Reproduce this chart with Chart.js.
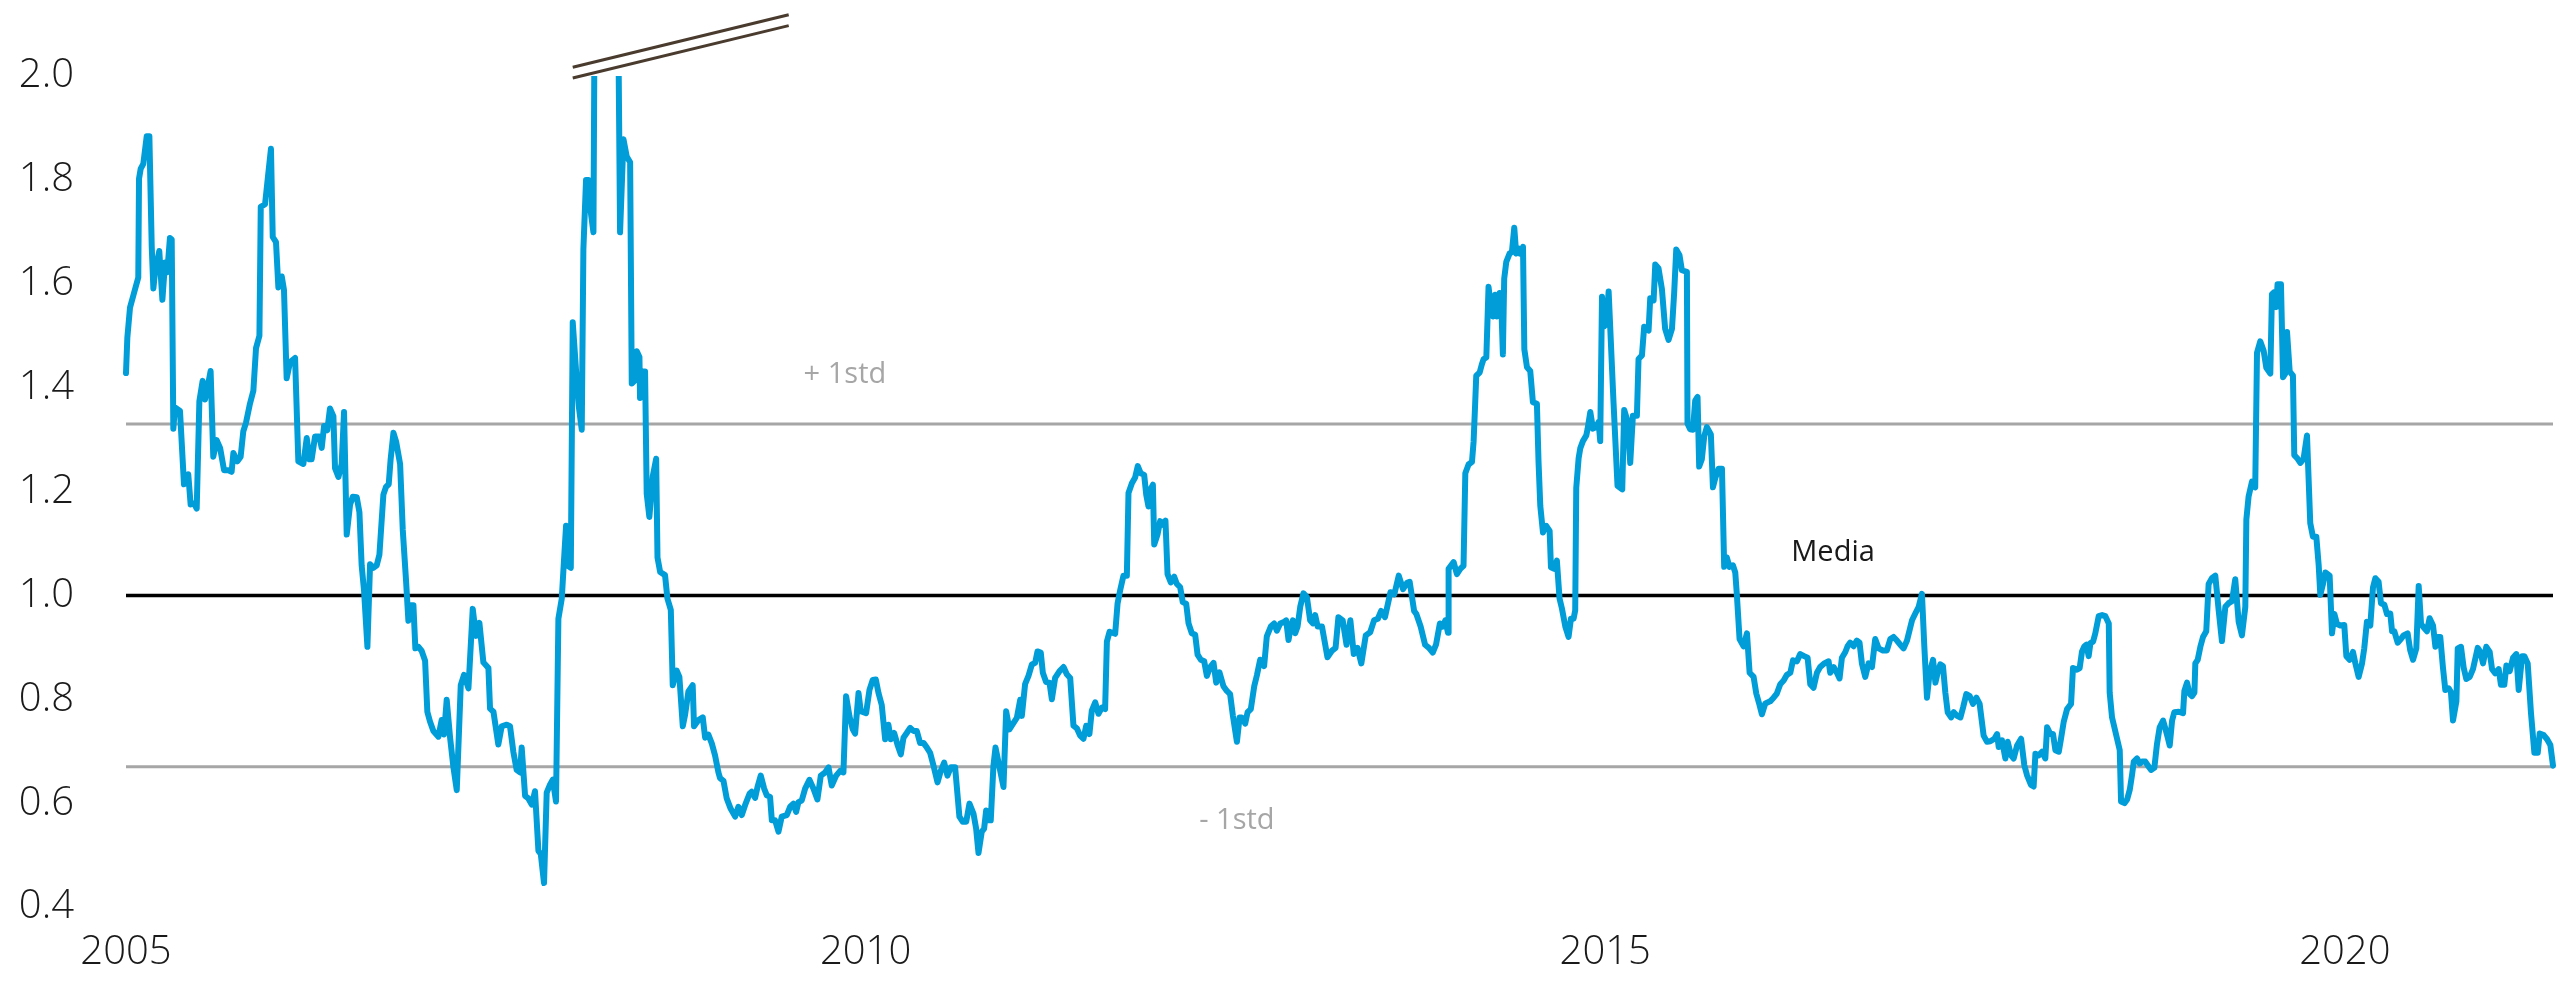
<!DOCTYPE html>
<html>
<head>
<meta charset="utf-8">
<title>Ratio vs media</title>
<script src="https://cdn.jsdelivr.net/npm/chart.js@4.4.1/dist/chart.umd.min.js"></script>
<style>
  html, body { margin: 0; padding: 0; background: #fff; }
  #chart { display: block; }
</style>
</head>
<body>
<canvas id="chart" width="2569" height="983"></canvas>
<script>
/* Series, one pair of arrays per stretch of years
   (decimal year -> ratio). Values above 2.0 in 2008 run off the top of the axis. */
const d2005 = [
  2005.000, 2005.009, 2005.027, 2005.050, 2005.083, 2005.088, 2005.099, 2005.117,
  2005.140, 2005.158, 2005.174, 2005.185, 2005.196, 2005.225, 2005.246, 2005.264,
  2005.279, 2005.297, 2005.309, 2005.320, 2005.331, 2005.365, 2005.392, 2005.421,
  2005.437, 2005.460, 2005.478, 2005.496, 2005.518, 2005.534, 2005.550, 2005.572,
  2005.590, 2005.613, 2005.636, 2005.663, 2005.692, 2005.714, 2005.726, 2005.753,
  2005.775, 2005.793, 2005.811, 2005.838, 2005.861, 2005.879, 2005.902, 2005.911,
  2005.940, 2005.960, 2005.980, 2005.992, 2006.014, 2006.030, 2006.053, 2006.068,
  2006.086, 2006.109, 2006.143, 2006.165, 2006.199, 2006.222, 2006.240, 2006.255,
  2006.278, 2006.307, 2006.323, 2006.339, 2006.361, 2006.379, 2006.402, 2006.413,
  2006.436, 2006.458, 2006.474, 2006.492, 2006.515, 2006.533, 2006.560, 2006.578,
  2006.593, 2006.609, 2006.632, 2006.650, 2006.672, 2006.695, 2006.713, 2006.740,
  2006.758, 2006.776, 2006.789, 2006.808, 2006.826, 2006.853, 2006.871, 2006.893,
  2006.909, 2006.925, 2006.943, 2006.956, 2006.977, 2006.999, 2007.022, 2007.037,
  2007.055
];
const v2005 = [
  1.428, 1.496, 1.554, 1.578, 1.612, 1.802, 1.821, 1.831,
  1.884, 1.884, 1.671, 1.591, 1.622, 1.663, 1.569, 1.641,
  1.622, 1.688, 1.685, 1.321, 1.362, 1.355, 1.214, 1.233,
  1.175, 1.177, 1.167, 1.374, 1.413, 1.377, 1.398, 1.432,
  1.267, 1.299, 1.284, 1.241, 1.241, 1.238, 1.274, 1.258,
  1.267, 1.316, 1.332, 1.369, 1.394, 1.476, 1.500, 1.748,
  1.753, 1.807, 1.860, 1.690, 1.680, 1.593, 1.614, 1.588,
  1.418, 1.449, 1.457, 1.258, 1.253, 1.303, 1.262, 1.262,
  1.306, 1.306, 1.284, 1.326, 1.318, 1.360, 1.345, 1.245,
  1.228, 1.253, 1.353, 1.117, 1.175, 1.190, 1.189, 1.160,
  1.058, 1.010, 0.901, 1.060, 1.053, 1.058, 1.078, 1.194,
  1.209, 1.214, 1.262, 1.313, 1.296, 1.253, 1.126, 1.029,
  0.951, 0.981, 0.981, 0.898, 0.901, 0.893, 0.874, 0.776,
  0.757
];

const d2007 = [
  2007.078, 2007.112, 2007.134, 2007.150, 2007.168, 2007.191, 2007.213, 2007.236,
  2007.263, 2007.285, 2007.315, 2007.344, 2007.366, 2007.389, 2007.416, 2007.450,
  2007.461, 2007.484, 2007.517, 2007.540, 2007.574, 2007.596, 2007.619, 2007.641,
  2007.664, 2007.675, 2007.698, 2007.720, 2007.743, 2007.765, 2007.788, 2007.804,
  2007.826, 2007.844, 2007.867, 2007.885, 2007.907, 2007.923, 2007.946, 2007.962,
  2007.975, 2007.991, 2008.007, 2008.020, 2008.043, 2008.061, 2008.081, 2008.092,
  2008.110, 2008.126, 2008.137, 2008.160, 2008.171, 2008.250, 2008.322, 2008.340,
  2008.363, 2008.385, 2008.408, 2008.419, 2008.441, 2008.453, 2008.471, 2008.475,
  2008.493, 2008.509, 2008.520, 2008.538, 2008.561, 2008.584, 2008.593, 2008.611,
  2008.644, 2008.660, 2008.683, 2008.696, 2008.723, 2008.741, 2008.764, 2008.780,
  2008.802, 2008.831, 2008.840, 2008.870, 2008.899, 2008.915, 2008.937, 2008.960,
  2008.982, 2009.005, 2009.016
];
const v2007 = [
  0.739, 0.728, 0.760, 0.732, 0.799, 0.726, 0.670, 0.625,
  0.827, 0.847, 0.821, 0.974, 0.922, 0.947, 0.871, 0.860,
  0.782, 0.776, 0.713, 0.748, 0.751, 0.748, 0.698, 0.664,
  0.659, 0.707, 0.614, 0.609, 0.597, 0.623, 0.508, 0.502,
  0.446, 0.620, 0.636, 0.645, 0.603, 0.955, 0.994, 1.073,
  1.134, 1.056, 1.053, 1.526, 1.431, 1.364, 1.319, 1.666,
  1.800, 1.800, 1.749, 1.699, 2.300, 2.600, 2.300, 1.699,
  1.878, 1.845, 1.834, 1.408, 1.414, 1.470, 1.459, 1.380,
  1.431, 1.431, 1.196, 1.151, 1.229, 1.263, 1.073, 1.045,
  1.039, 0.994, 0.972, 0.827, 0.855, 0.843, 0.748, 0.771,
  0.815, 0.827, 0.748, 0.760, 0.765, 0.726, 0.732, 0.715,
  0.692, 0.659, 0.648
];

const d2009 = [
  2009.039, 2009.061, 2009.088, 2009.118, 2009.140, 2009.163, 2009.185, 2009.215,
  2009.230, 2009.253, 2009.269, 2009.291, 2009.314, 2009.332, 2009.354, 2009.366,
  2009.388, 2009.411, 2009.433, 2009.467, 2009.490, 2009.512, 2009.530, 2009.546,
  2009.568, 2009.591, 2009.620, 2009.647, 2009.674, 2009.697, 2009.726, 2009.749,
  2009.771, 2009.801, 2009.828, 2009.850, 2009.868, 2009.891, 2009.913, 2009.929,
  2009.952, 2009.967, 2010.003, 2010.026, 2010.048, 2010.069, 2010.087, 2010.109,
  2010.132, 2010.154, 2010.170, 2010.193, 2010.215, 2010.238, 2010.256, 2010.278,
  2010.301, 2010.323, 2010.346, 2010.368, 2010.391, 2010.414, 2010.436, 2010.459,
  2010.486, 2010.508, 2010.531, 2010.553, 2010.576, 2010.605, 2010.634, 2010.657,
  2010.680, 2010.702, 2010.729, 2010.747, 2010.763, 2010.785, 2010.801, 2010.815,
  2010.830, 2010.846, 2010.864, 2010.878, 2010.905, 2010.932, 2010.950, 2010.972,
  2010.999, 2011.022, 2011.045
];
const v2009 = [
  0.643, 0.609, 0.589, 0.574, 0.593, 0.577, 0.596, 0.618,
  0.622, 0.610, 0.631, 0.653, 0.628, 0.615, 0.612, 0.567,
  0.567, 0.545, 0.574, 0.577, 0.593, 0.599, 0.583, 0.602,
  0.605, 0.628, 0.645, 0.628, 0.607, 0.653, 0.659, 0.669,
  0.634, 0.653, 0.662, 0.659, 0.806, 0.767, 0.742, 0.734,
  0.812, 0.777, 0.773, 0.818, 0.837, 0.838, 0.812, 0.789,
  0.723, 0.751, 0.723, 0.735, 0.713, 0.694, 0.726, 0.735,
  0.745, 0.739, 0.739, 0.716, 0.716, 0.707, 0.697, 0.672,
  0.640, 0.662, 0.678, 0.653, 0.669, 0.669, 0.574, 0.564,
  0.564, 0.599, 0.580, 0.551, 0.504, 0.545, 0.551, 0.586,
  0.567, 0.567, 0.672, 0.707, 0.669, 0.631, 0.777, 0.742,
  0.754, 0.764, 0.799
];

const d2011 = [
  2011.056, 2011.078, 2011.101, 2011.124, 2011.146, 2011.162, 2011.184, 2011.198,
  2011.220, 2011.243, 2011.259, 2011.281, 2011.311, 2011.338, 2011.360, 2011.383,
  2011.405, 2011.428, 2011.450, 2011.473, 2011.491, 2011.513, 2011.529, 2011.552,
  2011.574, 2011.597, 2011.619, 2011.631, 2011.649, 2011.687, 2011.703, 2011.721,
  2011.743, 2011.766, 2011.777, 2011.800, 2011.822, 2011.840, 2011.860, 2011.883,
  2011.897, 2011.912, 2011.924, 2011.942, 2011.951, 2011.973, 2011.991, 2012.009,
  2012.027, 2012.041, 2012.063, 2012.086, 2012.104, 2012.126, 2012.144, 2012.167,
  2012.183, 2012.205, 2012.228, 2012.244, 2012.266, 2012.289, 2012.307, 2012.329,
  2012.352, 2012.370, 2012.392, 2012.419, 2012.442, 2012.464, 2012.483, 2012.510,
  2012.528, 2012.543, 2012.566, 2012.582, 2012.604, 2012.627, 2012.645, 2012.667,
  2012.694, 2012.712, 2012.739, 2012.762, 2012.780, 2012.803, 2012.830, 2012.843,
  2012.859, 2012.875, 2012.888, 2012.904, 2012.920, 2012.938, 2012.960, 2012.983,
  2013.005, 2013.023, 2013.039
];
const v2011 = [
  0.768, 0.829, 0.845, 0.867, 0.870, 0.892, 0.890, 0.851,
  0.833, 0.832, 0.800, 0.841, 0.854, 0.862, 0.848, 0.841,
  0.749, 0.744, 0.730, 0.724, 0.749, 0.733, 0.778, 0.794,
  0.772, 0.784, 0.781, 0.911, 0.930, 0.926, 0.984, 1.010,
  1.038, 1.038, 1.197, 1.216, 1.227, 1.249, 1.235, 1.232,
  1.194, 1.171, 1.203, 1.213, 1.098, 1.117, 1.143, 1.136,
  1.144, 1.041, 1.025, 1.036, 1.022, 1.016, 0.987, 0.984,
  0.946, 0.927, 0.924, 0.886, 0.876, 0.873, 0.845, 0.862,
  0.870, 0.832, 0.852, 0.825, 0.816, 0.810, 0.768, 0.718,
  0.765, 0.765, 0.753, 0.775, 0.781, 0.825, 0.846, 0.876,
  0.864, 0.921, 0.940, 0.946, 0.932, 0.946, 0.949, 0.952,
  0.914, 0.940, 0.952, 0.927, 0.940, 0.978, 1.004, 0.997,
  0.952, 0.946, 0.962
];

const d2013 = [
  2013.056, 2013.085, 2013.107, 2013.122, 2013.151, 2013.177, 2013.196, 2013.225,
  2013.251, 2013.277, 2013.300, 2013.325, 2013.351, 2013.381, 2013.411, 2013.437,
  2013.463, 2013.485, 2013.511, 2013.548, 2013.574, 2013.604, 2013.633, 2013.660,
  2013.678, 2013.708, 2013.723, 2013.752, 2013.782, 2013.808, 2013.834, 2013.856,
  2013.882, 2013.901, 2013.919, 2013.937, 2013.941, 2013.975, 2013.997, 2014.020,
  2014.042,
  2014.054, 2014.076, 2014.099, 2014.110, 2014.121, 2014.128, 2014.151, 2014.166,
  2014.178, 2014.196, 2014.211, 2014.227, 2014.241, 2014.256, 2014.268, 2014.286,
  2014.295, 2014.308, 2014.317, 2014.331, 2014.353, 2014.369, 2014.385, 2014.398,
  2014.414, 2014.425, 2014.444, 2014.453, 2014.471, 2014.493, 2014.511, 2014.538,
  2014.549, 2014.561, 2014.579, 2014.601, 2014.624, 2014.633, 2014.655, 2014.673,
  2014.691, 2014.707, 2014.730, 2014.752, 2014.768, 2014.786, 2014.797, 2014.804,
  2014.820, 2014.831, 2014.849, 2014.872, 2014.881, 2014.899, 2014.917, 2014.939,
  2014.955, 2014.966, 2014.978, 2014.993, 2015.007, 2015.023
];
const v2013 = [
  0.940, 0.940, 0.905, 0.881, 0.893, 0.899, 0.958, 0.952,
  0.905, 0.952, 0.887, 0.899, 0.869, 0.923, 0.929, 0.952,
  0.955, 0.970, 0.958, 1.006, 1.002, 1.038, 1.012, 1.024,
  1.026, 0.970, 0.964, 0.940, 0.905, 0.899, 0.890, 0.905,
  0.946, 0.940, 0.952, 0.928, 1.051, 1.064, 1.041, 1.051,
  1.057,
  1.235, 1.252, 1.257, 1.296, 1.372, 1.423, 1.429, 1.445,
  1.455, 1.458, 1.594, 1.556, 1.537, 1.579, 1.537, 1.582,
  1.579, 1.464, 1.610, 1.642, 1.658, 1.661, 1.708, 1.658,
  1.668, 1.658, 1.671, 1.474, 1.439, 1.432, 1.372, 1.369,
  1.257, 1.172, 1.121, 1.134, 1.124, 1.054, 1.051, 1.067,
  0.994, 0.975, 0.940, 0.920, 0.955, 0.955, 0.971, 1.207,
  1.264, 1.283, 1.297, 1.308, 1.321, 1.353, 1.321, 1.324,
  1.334, 1.297, 1.575, 1.518, 1.524, 1.585
];

const d2015 = [
  2015.056, 2015.083, 2015.115, 2015.128, 2015.151, 2015.169, 2015.187, 2015.214,
  2015.225, 2015.248, 2015.263, 2015.293, 2015.304, 2015.327, 2015.338, 2015.360,
  2015.383, 2015.405, 2015.428, 2015.451, 2015.466, 2015.480, 2015.502, 2015.518,
  2015.552, 2015.556, 2015.574, 2015.593, 2015.608, 2015.624, 2015.635, 2015.653,
  2015.669, 2015.687, 2015.714, 2015.728, 2015.744, 2015.766, 2015.789, 2015.804,
  2015.822, 2015.840, 2015.863, 2015.879, 2015.890, 2015.908, 2015.935, 2015.958,
  2015.976, 2016.003, 2016.021, 2016.043, 2016.059, 2016.082, 2016.115, 2016.138,
  2016.160, 2016.183, 2016.206, 2016.228, 2016.251, 2016.269, 2016.296, 2016.318,
  2016.345, 2016.368, 2016.386, 2016.408, 2016.431, 2016.453, 2016.480, 2016.510,
  2016.521, 2016.544, 2016.566, 2016.584, 2016.600, 2016.623, 2016.638, 2016.656,
  2016.679, 2016.701, 2016.719, 2016.735, 2016.758, 2016.780, 2016.803, 2016.825,
  2016.848, 2016.877, 2016.904, 2016.927, 2016.949, 2016.972, 2016.994, 2017.017,
  2017.040
];
const v2015 = [
  1.371, 1.211, 1.204, 1.357, 1.335, 1.255, 1.346, 1.346,
  1.455, 1.462, 1.517, 1.510, 1.572, 1.568, 1.637, 1.630,
  1.590, 1.513, 1.492, 1.513, 1.583, 1.666, 1.655, 1.626,
  1.623, 1.331, 1.320, 1.319, 1.375, 1.382, 1.248, 1.262,
  1.306, 1.324, 1.310, 1.208, 1.226, 1.244, 1.244, 1.055,
  1.073, 1.055, 1.058, 1.044, 1.000, 0.916, 0.902, 0.927,
  0.851, 0.843, 0.811, 0.789, 0.771, 0.792, 0.796, 0.803,
  0.811, 0.829, 0.836, 0.847, 0.851, 0.875, 0.873, 0.887,
  0.883, 0.880, 0.829, 0.822, 0.851, 0.862, 0.869, 0.873,
  0.851, 0.862, 0.851, 0.840, 0.880, 0.891, 0.902, 0.909,
  0.902, 0.913, 0.909, 0.869, 0.843, 0.869, 0.862, 0.916,
  0.898, 0.894, 0.894, 0.916, 0.920, 0.913, 0.905, 0.898,
  0.913
];

const d2017 = [
  2017.074, 2017.096, 2017.119, 2017.141, 2017.157, 2017.175, 2017.193, 2017.216,
  2017.232, 2017.247, 2017.265, 2017.283, 2017.299, 2017.315, 2017.338, 2017.356,
  2017.378, 2017.401, 2017.419, 2017.441, 2017.464, 2017.486, 2017.509, 2017.531,
  2017.558, 2017.581, 2017.603, 2017.631, 2017.649, 2017.660, 2017.682, 2017.705,
  2017.721, 2017.743, 2017.761, 2017.784, 2017.811, 2017.833, 2017.851, 2017.878,
  2017.896, 2017.908, 2017.930, 2017.953, 2017.975, 2017.987, 2018.009, 2018.027,
  2018.043, 2018.066, 2018.081, 2018.099, 2018.122, 2018.149, 2018.162, 2018.189,
  2018.207, 2018.223, 2018.239, 2018.253, 2018.268, 2018.280, 2018.298, 2018.313,
  2018.336, 2018.359, 2018.381, 2018.404, 2018.410, 2018.426, 2018.455, 2018.478,
  2018.487, 2018.510, 2018.528, 2018.546, 2018.561, 2018.573, 2018.595, 2018.613,
  2018.629, 2018.651, 2018.674, 2018.690, 2018.712, 2018.730, 2018.748, 2018.771,
  2018.787, 2018.802, 2018.816, 2018.832, 2018.847, 2018.877, 2018.906, 2018.915,
  2018.933, 2018.951, 2018.967, 2018.983
];
const v2017 = [
  0.952, 0.965, 0.978, 1.003, 0.902, 0.803, 0.851, 0.876,
  0.832, 0.851, 0.867, 0.864, 0.813, 0.775, 0.765, 0.775,
  0.768, 0.765, 0.784, 0.810, 0.806, 0.791, 0.803, 0.791,
  0.730, 0.718, 0.719, 0.724, 0.733, 0.708, 0.721, 0.686,
  0.718, 0.692, 0.686, 0.711, 0.724, 0.673, 0.654, 0.635,
  0.632, 0.695, 0.692, 0.699, 0.686, 0.746, 0.733, 0.733,
  0.702, 0.699, 0.724, 0.756, 0.781, 0.791, 0.860, 0.857,
  0.860, 0.892, 0.902, 0.905, 0.883, 0.908, 0.911, 0.927,
  0.960, 0.962, 0.960, 0.946, 0.813, 0.765, 0.730, 0.702,
  0.603, 0.600, 0.607, 0.626, 0.654, 0.680, 0.686, 0.676,
  0.680, 0.680, 0.670, 0.664, 0.668, 0.714, 0.746, 0.759,
  0.743, 0.727, 0.711, 0.759, 0.775, 0.776, 0.773, 0.816,
  0.832, 0.810, 0.806, 0.813
];

const d2019 = [
  2018.989, 2019.005, 2019.023, 2019.041, 2019.063, 2019.079, 2019.101, 2019.124,
  2019.147, 2019.169, 2019.192, 2019.214, 2019.237, 2019.259, 2019.282, 2019.304,
  2019.327, 2019.334, 2019.349, 2019.372, 2019.394, 2019.406, 2019.428, 2019.451,
  2019.469, 2019.496, 2019.507, 2019.523, 2019.536, 2019.545, 2019.568, 2019.582,
  2019.597, 2019.609, 2019.627, 2019.649, 2019.658, 2019.681, 2019.699, 2019.721,
  2019.744, 2019.766, 2019.784, 2019.807, 2019.823, 2019.834, 2019.852, 2019.868,
  2019.897, 2019.913, 2019.929, 2019.947, 2019.969, 2019.996, 2020.010, 2020.032,
  2020.055, 2020.071, 2020.093, 2020.116, 2020.131, 2020.149, 2020.172, 2020.190,
  2020.206, 2020.228, 2020.244, 2020.267, 2020.285, 2020.307, 2020.319, 2020.334,
  2020.357, 2020.379, 2020.397, 2020.424, 2020.442, 2020.461, 2020.483, 2020.499,
  2020.515, 2020.533, 2020.555, 2020.573, 2020.596, 2020.612, 2020.627, 2020.645,
  2020.663, 2020.679, 2020.702, 2020.717, 2020.731, 2020.754, 2020.763, 2020.785,
  2020.803, 2020.821, 2020.844, 2020.866, 2020.898, 2020.916, 2020.934, 2020.956,
  2020.979, 2020.995, 2021.017, 2021.040, 2021.055, 2021.078, 2021.092, 2021.114,
  2021.137, 2021.159, 2021.175, 2021.198, 2021.213, 2021.236, 2021.258, 2021.281,
  2021.304, 2021.317, 2021.344, 2021.367, 2021.389, 2021.407
];
const v2019 = [
  0.869, 0.876, 0.901, 0.920, 0.931, 1.022, 1.033, 1.038,
  0.971, 0.912, 0.978, 0.985, 0.989, 1.031, 0.949, 0.923,
  0.978, 1.146, 1.190, 1.219, 1.208, 1.467, 1.489, 1.471,
  1.438, 1.427, 1.580, 1.584, 1.555, 1.599, 1.599, 1.420,
  1.427, 1.507, 1.431, 1.423, 1.270, 1.263, 1.255, 1.263,
  1.308, 1.139, 1.113, 1.113, 1.058, 1.001, 1.022, 1.044,
  1.038, 0.927, 0.964, 0.945, 0.942, 0.943, 0.883, 0.876,
  0.891, 0.869, 0.843, 0.869, 0.898, 0.949, 0.942, 1.015,
  1.033, 1.026, 0.985, 0.982, 0.964, 0.965, 0.931, 0.931,
  0.909, 0.916, 0.923, 0.927, 0.894, 0.876, 0.898, 1.018,
  0.945, 0.938, 0.931, 0.956, 0.942, 0.901, 0.920, 0.920,
  0.861, 0.818, 0.821, 0.814, 0.759, 0.796, 0.898, 0.901,
  0.861, 0.839, 0.843, 0.858, 0.899, 0.891, 0.869, 0.901,
  0.891, 0.858, 0.850, 0.858, 0.828, 0.828, 0.865, 0.854,
  0.880, 0.887, 0.818, 0.883, 0.883, 0.869, 0.774, 0.697,
  0.697, 0.734, 0.731, 0.723, 0.712, 0.672
];

// reference levels
const MEDIA = 1.0;
const STD_UP = 1.33;
const STD_DOWN = 0.67;

// axes
const X_MIN = 2005, X_MAX = 2021.407;
const xTicks = [2005, 2010, 2015, 2020];
const yTicks = [0.4, 0.6, 0.8, 1.0, 1.2, 1.4, 1.6, 1.8, 2.0];

// axis-break mark above 2008 (two parallel strokes)
const breakX = [2008.02, 2009.48];
const breakHi = [2.017, 2.118];
const breakLo = [1.996, 2.097];

const notes = [
  { text: "+ 1std", x: 2009.86, y: 1.425, color: "#a6a6a6" },
  { text: "Media",  x: 2016.54, y: 1.083, color: "#1a1a1a" },
  { text: "- 1std", x: 2012.51, y: 0.567, color: "#a6a6a6" },
];

const FONT = "'Open Sans', 'Noto Sans', sans-serif";
const BLUE = "#009dd8", GREY = "#a6a6a6", BREAK = "#4a3b2f";

const dates = [].concat(d2005, d2007, d2009, d2011, d2013, d2015, d2017, d2019);
const ratio = [].concat(v2005, v2007, v2009, v2011, v2013, v2015, v2017, v2019);
if (dates.length !== ratio.length) console.error("length mismatch", dates.length, ratio.length);

const pts = (xs, ys) => xs.map((x, i) => ({ x, y: ys[i] }));
const hline = v => [{ x: X_MIN, y: v }, { x: X_MAX, y: v }];

const notesPlugin = {
  id: "notes",
  afterDatasetsDraw(chart) {
    const { ctx, scales: { x, y } } = chart;
    ctx.save();
    ctx.font = "29px " + FONT;
    ctx.textAlign = "center";
    ctx.textBaseline = "middle";
    notes.forEach(n => {
      ctx.fillStyle = n.color;
      ctx.fillText(n.text, x.getPixelForValue(n.x), y.getPixelForValue(n.y));
    });
    ctx.restore();
  },
};

Chart.defaults.font.family = FONT;

new Chart(document.getElementById("chart"), {
  type: "line",
  data: {
    datasets: [
      { data: pts(dates, ratio), borderColor: BLUE, borderWidth: 6, order: 0,
        borderJoinStyle: "round", borderCapStyle: "round",
        clip: { left: 4, right: 4, top: 0, bottom: 4 } },
      { data: hline(MEDIA), borderColor: "#000", borderWidth: 3.5, order: 1 },
      { data: hline(STD_UP), borderColor: GREY, borderWidth: 3, order: 1 },
      { data: hline(STD_DOWN), borderColor: GREY, borderWidth: 3, order: 1 },
      { data: pts(breakX, breakHi), borderColor: BREAK, borderWidth: 3, clip: false, order: 2 },
      { data: pts(breakX, breakLo), borderColor: BREAK, borderWidth: 3, clip: false, order: 2 },
    ],
  },
  options: {
    responsive: false,
    animation: false,
    devicePixelRatio: 1,
    elements: { point: { radius: 0, hoverRadius: 0 }, line: { tension: 0, fill: false } },
    layout: { padding: { left: 0, right: 16, top: 74, bottom: 0 } },
    plugins: { legend: { display: false }, tooltip: { enabled: false } },
    events: [],
    scales: {
      x: {
        type: "linear", min: X_MIN, max: X_MAX,
        grid: { display: false, drawTicks: false }, border: { display: false },
        afterBuildTicks: s => { s.ticks = xTicks.map(value => ({ value })); },
        afterFit: s => { s.height = 72; },
        ticks: { padding: 22, maxRotation: 0, autoSkip: false, color: "#1a1a1a",
                 font: { size: 40, weight: 300 }, callback: v => String(v) },
      },
      y: {
        type: "linear", min: 0.4, max: 2.0,
        grid: { display: false, drawTicks: false }, border: { display: false },
        afterBuildTicks: s => { s.ticks = yTicks.map(value => ({ value })); },
        afterFit: s => { s.width = 126; },
        ticks: { padding: 52, color: "#1a1a1a", font: { size: 40, weight: 300 },
                 callback: v => Number(v).toFixed(1) },
      },
    },
  },
  plugins: [notesPlugin],
});
</script>
</body>
</html>
